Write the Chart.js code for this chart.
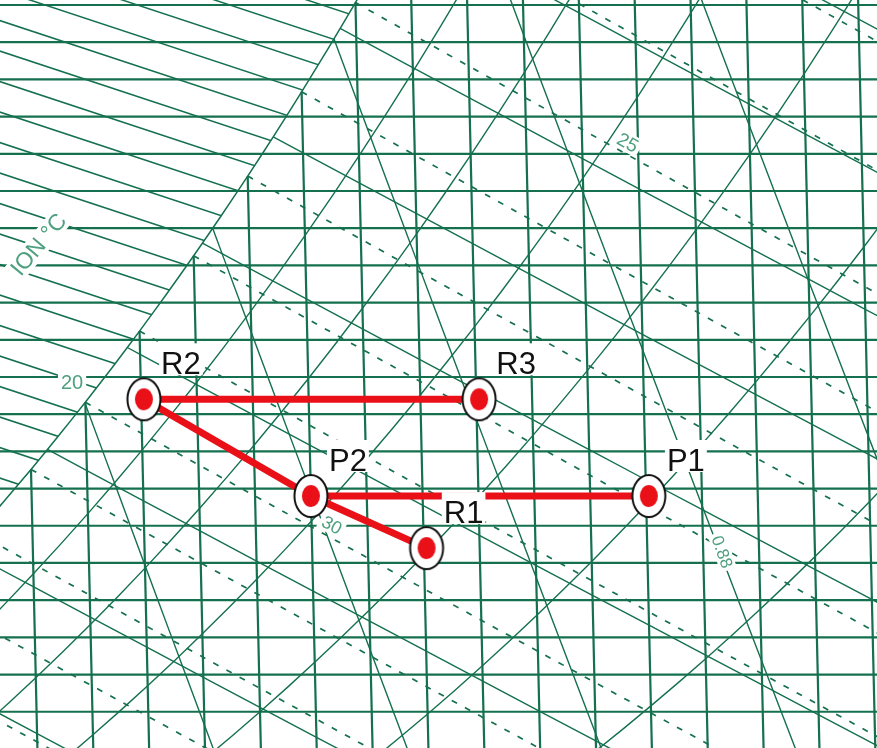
<!DOCTYPE html>
<html>
<head>
<meta charset="utf-8">
<title>Psychrometric process</title>
<script src="https://cdn.jsdelivr.net/npm/chart.js@4.4.1/dist/chart.umd.min.js"></script>
<style>
  html, body { margin: 0; padding: 0; background: #ffffff; }
  #wrap { width: 877px; height: 748px; position: relative; }
</style>
</head>
<body>
<div id="wrap"><canvas id="chart"></canvas></div>
<script>
// ---- State points of the air-handling process ----
const pointNames = ['P1', 'P2', 'R1', 'R2', 'R3'];
const dryBulb    = [30.05, 24.0, 26.05, 21.05, 27.05];   // °C
const humidity   = [13.4, 13.4, 12.7, 14.7, 14.7];       // g/kg dry air

// Process paths, by state point name
const pathMain   = ['R3', 'R2', 'P2', 'P1'];
const pathBranch = ['P2', 'R1'];

// ---- Psychrometric grid values ----
const dryBulbLines  = [19, 20, 21, 22, 23, 24, 25, 26, 27, 28, 29, 30, 31, 32, 33, 34];          // °C
const humidityLines = [10.5, 11, 11.5, 12, 12.5, 13, 13.5, 14, 14.5, 15, 15.5, 16, 16.5, 17,
                       17.5, 18, 18.5, 19, 19.5, 20];                                             // g/kg
const rhLines       = [30, 40, 50, 60, 70, 80, 90];                                               // %
const enthalpyLines = [40, 45, 50, 55, 60, 65, 70, 75, 80, 85, 90];                              // kJ/kg
const wetBulbLines  = [15, 16, 17, 18, 19, 20, 21, 22, 23, 24, 25, 26, 27, 28, 29];              // °C
const volumeLines   = [0.85, 0.86, 0.87, 0.88, 0.89, 0.90];                                       // m³/kg

// Visible window of the chart (skewed dry-bulb axis, humidity ratio axis)
const X_MIN = 18.33, X_MAX = 34.03;
const W_MIN = 10.013, W_MAX = 20.067;

// ---- Psychrometric relations (sea-level pressure) ----
const P_ATM = 101.325;
const pws   = t => 0.61094 * Math.exp(17.625 * t / (t + 243.04));      // kPa
const wOfPw = pw => 621.945 * pw / (P_ATM - pw);                        // g/kg
const wSat  = t => wOfPw(pws(t));
const wOfH  = (h, t) => (h - 1.006 * t) / (2501 + 1.86 * t) * 1000;
const wOfWb = (tw, t) => ((2501 - 2.326 * tw) * wSat(tw) / 1000 - 1.006 * (t - tw)) /
                         (2501 + 1.86 * t - 4.186 * tw) * 1000;
const tOfV  = (v, w) => v * P_ATM / (0.287042 * (1 + 1.6078 * w / 1000)) - 273.15;

// dry-bulb lines lean slightly on this chart
const SKEW = 0.0306, W_BASE = 10.0;
const pt = (t, w) => ({ x: t - SKEW * (w - W_BASE), y: w });

function span(a, b, s) {
  const out = [];
  for (let v = a; v <= b + 1e-9; v += s) out.push(+v.toFixed(4));
  return out;
}
// generic bisection: f(lo) > 0, f(hi) < 0
function solve(f, lo, hi) {
  for (let i = 0; i < 60; i++) {
    const mid = (lo + hi) / 2;
    if (f(mid) > 0) lo = mid; else hi = mid;
  }
  return (lo + hi) / 2;
}
// humidity ratio where a volume line meets saturation
const volumeSatW = v => solve(w => wSat(tOfV(v, w)) - w, 2, 40);
// dry bulb where an enthalpy line meets saturation
const enthalpySatT = h => solve(t => wOfH(h, t) - wSat(t), 0, 40);

// ---- Styles ----
const GRID  = 'rgb(20,112,78)';
const RED   = 'rgb(234,16,24)';
const LABEL_GREEN = 'rgb(78,160,128)';

const gridLine = (data, width, dash) => ({
  data, showLine: true, borderColor: GRID, borderWidth: width, borderDash: dash || [],
  pointRadius: 0, pointHoverRadius: 0, fill: false, tension: 0, order: 3
});

const datasets = [];
humidityLines.forEach(w => datasets.push(gridLine([{ x: X_MIN - 1, y: w }, { x: X_MAX + 1, y: w }], 2.2)));
dryBulbLines.forEach(t => datasets.push(gridLine([pt(t, Math.min(wSat(t), 30)), pt(t, 8)], 2.2)));
const satCurve = span(15, 28, 0.25).map(t => pt(t, wSat(t)));
datasets.push(gridLine(satCurve, 1.5));
rhLines.forEach(rh => datasets.push(gridLine(span(14, 38, 0.5).map(t => pt(t, wOfPw(rh / 100 * pws(t)))), 1.4)));
enthalpyLines.forEach(h => {
  const ts = enthalpySatT(h);
  datasets.push(gridLine([ts].concat(span(Math.ceil(ts), 40, 1)).map(t => pt(t, wOfH(h, t))), 1.4));
});
wetBulbLines.forEach(tw => datasets.push(gridLine(span(tw, tw + 24, 1).map(t => pt(t, wOfWb(tw, t))), 1.7, [6, 9])));
volumeLines.forEach(v => {
  const ws = volumeSatW(v);
  datasets.push(gridLine(span(8, ws, 0.5).concat([ws]).map(w => pt(tOfV(v, w), w)), 1.4));
});

// process lines and state point markers
const statePt = name => { const i = pointNames.indexOf(name); return pt(dryBulb[i], humidity[i]); };
[pathMain, pathBranch].forEach(path => datasets.push({
  role: 'process', data: path.map(statePt), showLine: true, borderColor: RED, borderWidth: 7,
  borderCapStyle: 'round', borderJoinStyle: 'round', pointRadius: 0, fill: false, tension: 0, order: 2
}));

function makeMarker() {
  const c = document.createElement('canvas');
  c.width = 40; c.height = 50;
  const g = c.getContext('2d');
  g.beginPath(); g.ellipse(20, 25, 16.5, 21, 0, 0, Math.PI * 2);
  g.fillStyle = '#ffffff'; g.fill();
  g.lineWidth = 2; g.strokeStyle = '#111111'; g.stroke();
  g.beginPath(); g.ellipse(20, 25, 9, 11, 0, 0, Math.PI * 2);
  g.fillStyle = RED; g.fill();
  return c;
}
datasets.push({
  data: pointNames.map(statePt), pointStyle: makeMarker(), pointRadius: 12,
  showLine: false, order: 1
});

// green scale annotations on the grid (anchor in chart units, rotation in degrees)
const gridTags = [
  { text: '20',     x: 19.62, y: 14.93, rot: 0,   size: 20 },
  { text: '25',     x: 29.57, y: 18.15, rot: 29,  size: 19 },
  { text: '30',     x: 24.27, y: 13.01, rot: 29,  size: 18 },
  { text: '0.88',   x: 31.26, y: 12.65, rot: 70,  size: 17 },
  { text: 'ION °C', x: 19.02, y: 16.78, rot: -50, size: 23 }
];

// fog (supersaturated) region hatching
const FOG_SLOPE = -0.248, FOG_STEP = 0.41, FOG_PHASE = 19.79;

const fogHatch = {
  id: 'fogHatch',
  beforeDatasetsDraw(chart) {
    const { ctx, chartArea: a, scales: { x, y } } = chart;
    ctx.save();
    ctx.beginPath();
    satCurve.forEach((p, i) => {
      const px = x.getPixelForValue(p.x), py = y.getPixelForValue(p.y);
      if (i) ctx.lineTo(px, py); else ctx.moveTo(px, py);
    });
    ctx.lineTo(a.left - 600, a.top - 600);
    ctx.lineTo(a.left - 600, y.getPixelForValue(satCurve[0].y));
    ctx.closePath();
    ctx.clip();
    ctx.strokeStyle = GRID;
    ctx.lineWidth = 1.5;
    for (let k = -30; k <= 30; k++) {
      const c = FOG_PHASE + k * FOG_STEP;
      const x0 = X_MIN - 2, x1 = X_MAX;
      ctx.beginPath();
      ctx.moveTo(x.getPixelForValue(x0), y.getPixelForValue(c + FOG_SLOPE * (x0 - X_MIN)));
      ctx.lineTo(x.getPixelForValue(x1), y.getPixelForValue(c + FOG_SLOPE * (x1 - X_MIN)));
      ctx.stroke();
    }
    ctx.restore();
    chart.$tagsDrawn = false;
  }
};

function drawTag(ctx, tag, px, py) {
  ctx.save();
  ctx.translate(px, py);
  ctx.rotate(tag.rot * Math.PI / 180);
  ctx.font = `${tag.size}px "Liberation Sans", Arial, sans-serif`;
  const w = ctx.measureText(tag.text).width;
  ctx.fillStyle = '#ffffff';
  ctx.fillRect(-w / 2 - 3, -tag.size * 0.5, w + 6, tag.size);
  ctx.fillStyle = LABEL_GREEN;
  ctx.textAlign = 'center';
  ctx.textBaseline = 'middle';
  ctx.fillText(tag.text, 0, 1);
  ctx.restore();
}

const chartLabels = {
  id: 'chartLabels',
  beforeDatasetDraw(chart, args) {
    const set = chart.data.datasets[args.index];
    if (set.role === 'process' && !chart.$tagsDrawn) {
      const { x, y } = chart.scales;
      gridTags.forEach(t => drawTag(chart.ctx, t, x.getPixelForValue(t.x), y.getPixelForValue(t.y)));
      chart.$tagsDrawn = true;
    }
  },
  afterDatasetsDraw(chart) {
    const { ctx, scales: { x, y } } = chart;
    ctx.save();
    ctx.font = '31px "Liberation Sans", Arial, sans-serif';
    ctx.textAlign = 'center';
    ctx.textBaseline = 'alphabetic';
    pointNames.forEach(name => {
      const p = statePt(name);
      const px = x.getPixelForValue(p.x) + 37;
      const base = y.getPixelForValue(p.y) - 25;
      const w = ctx.measureText(name).width;
      ctx.fillStyle = '#ffffff';
      ctx.fillRect(px - w / 2 - 2, base - 31, w + 4, 32);
      ctx.fillStyle = '#111111';
      ctx.fillText(name, px, base);
    });
    ctx.restore();
  }
};

new Chart(document.getElementById('chart'), {
  type: 'scatter',
  data: { datasets },
  options: {
    responsive: true,
    maintainAspectRatio: false,
    animation: false,
    events: [],
    layout: { padding: 0, autoPadding: false },
    scales: {
      x: { type: 'linear', min: X_MIN, max: X_MAX, display: false },
      y: { type: 'linear', min: W_MIN, max: W_MAX, display: false }
    },
    plugins: { legend: { display: false }, tooltip: { enabled: false } }
  },
  plugins: [fogHatch, chartLabels]
});
</script>
</body>
</html>
